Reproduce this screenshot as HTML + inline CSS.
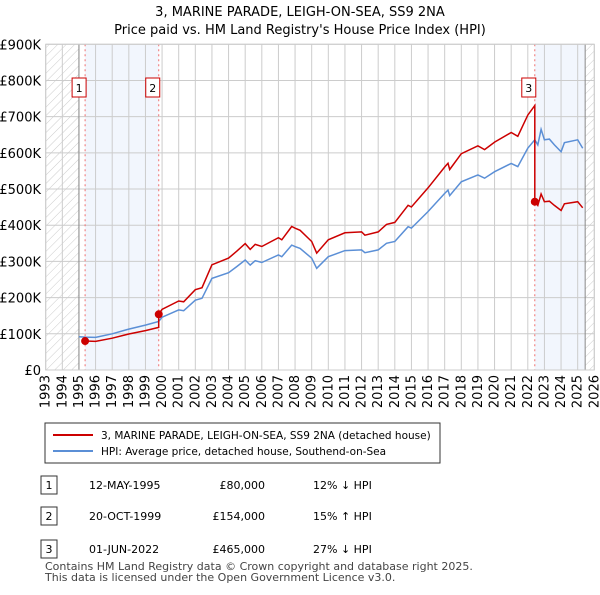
<!DOCTYPE html>
<html><head><meta charset="utf-8"><style>
body{margin:0;background:#fff;font-family:"Liberation Sans","DejaVu Sans",sans-serif;}
svg text{font-family:"DejaVu Sans","Liberation Sans",sans-serif;}
</style></head><body>
<svg id="c" width="600" height="590" viewBox="0 0 600 590">
<defs><pattern id="hatch" width="6" height="6" patternUnits="userSpaceOnUse" patternTransform="rotate(45)"><line x1="0" y1="0" x2="0" y2="6" stroke="#ccc" stroke-width="1"/></pattern></defs>
<text x="300" y="16" text-anchor="middle" font-size="13">3, MARINE PARADE, LEIGH-ON-SEA, SS9 2NA</text>
<text x="300" y="34" text-anchor="middle" font-size="13">Price paid vs. HM Land Registry's House Price Index (HPI)</text>
<g id="plot"></g>
<rect x="45" y="423" width="395" height="40" fill="#fff" stroke="#333"/>
<line x1="53" y1="435" x2="93" y2="435" stroke="#cc0000" stroke-width="2"/>
<text x="101" y="439" font-size="10.5">3, MARINE PARADE, LEIGH-ON-SEA, SS9 2NA (detached house)</text>
<line x1="53" y1="451" x2="93" y2="451" stroke="#5b8fd6" stroke-width="2"/>
<text x="101" y="455" font-size="10.5">HPI: Average price, detached house, Southend-on-Sea</text>
<g id="table" font-size="11"></g>
<text x="45" y="570" font-size="11" fill="#444">Contains HM Land Registry data © Crown copyright and database right 2025.</text>
<text x="45" y="581" font-size="11" fill="#444">This data is licensed under the Open Government Licence v3.0.</text>
</svg>
<script>
const hpiYears=[1995,1995.37,1996,1997,1998,1999,1999.8,2000,2001,2001.3,2002,2002.4,2003,2004,2004.5,2005,2005.3,2005.6,2006,2007,2007.2,2007.8,2008,2008.3,2009,2009.3,2010,2011,2012,2012.2,2013,2013.5,2014,2014.8,2015,2016,2017,2017.2,2017.3,2018,2019,2019.4,2020,2021,2021.4,2022,2022.42,2022.6,2022.8,2023,2023.3,2023.6,2024,2024.2,2025,2025.3];
const hpiValues=[92,91,90,100,113,124,134,146,166,164,193,198,253,269,286,304,290,302,297,318,313,345,341,336,309,281,313,330,332,324,332,350,355,396,392,438,488,497,482,520,539,530,548,571,562,613,636,622,665,636,638,622,603,628,636,613];
const saleYears=[1995.37,1999.8,2022.42];
const salePrices=[80,154,465];
const saleLabels=["1","2","3"];
const saleDates=["12-MAY-1995","20-OCT-1999","01-JUN-2022"];
const salePriceText=["£80,000","£154,000","£465,000"];
const saleHpiText=["12% ↓ HPI","15% ↑ HPI","27% ↓ HPI"];
const yTicks=[0,100,200,300,400,500,600,700,800,900];
const yTickLabels=["£0","£100K","£200K","£300K","£400K","£500K","£600K","£700K","£800K","£900K"];

const X0=45.7,X1=594.3,Y0=370,Y1=44.3;
const xs=y=>X0+(y-1993)*(X1-X0)/33;
const ys=v=>Y0-v*(Y0-Y1)/900;
const NS="http://www.w3.org/2000/svg";
const plot=document.getElementById('plot');
function mk(tag,attrs,parent){const e=document.createElementNS(NS,tag);for(const k in attrs)e.setAttribute(k,attrs[k]);(parent||plot).appendChild(e);return e;}
function hpiAt(t){for(let i=0;i<hpiYears.length-1;i++){if(t>=hpiYears[i]&&t<=hpiYears[i+1]){const f=(t-hpiYears[i])/(hpiYears[i+1]-hpiYears[i]);return hpiValues[i]+f*(hpiValues[i+1]-hpiValues[i]);}}return hpiValues[hpiValues.length-1];}

let e;
e=mk('rect',{x:X0,y:Y1,width:X1-X0,height:Y0-Y1,fill:'#fff'});


e=mk('rect',{x:xs(1993),y:Y1,width:xs(1995)-xs(1993),height:Y0-Y1,fill:'url(#hatch)'});


e=mk('rect',{x:xs(2025.45),y:Y1,width:X1-xs(2025.45),height:Y0-Y1,fill:'url(#hatch)'});


e=mk('rect',{x:xs(saleYears[0]),y:Y1,width:xs(saleYears[1])-xs(saleYears[0]),height:Y0-Y1,fill:'#f2f6fd'});


e=mk('rect',{x:xs(saleYears[2]),y:Y1,width:xs(2025.45)-xs(saleYears[2]),height:Y0-Y1,fill:'#f2f6fd'});


for(let yr=1993;yr<=2026;yr++){
  e=mk('line',{x1:xs(yr),x2:xs(yr),y1:Y1,y2:Y0,stroke:'#ccc','stroke-width':1});
  
  
  const tx=xs(yr)+4, ty=375;
  e=mk('text',{x:tx,y:ty,'font-size':13,'text-anchor':'end',transform:`rotate(-90 ${tx} ${ty})`});
  e.textContent=yr;
  
  
}
yTicks.forEach((v,i)=>{
  e=mk('line',{x1:X0,x2:X1,y1:ys(v),y2:ys(v),stroke:'#ccc','stroke-width':1});
  
  
  e=mk('text',{x:41,y:ys(v)+5,'font-size':13,'text-anchor':'end'});
  e.textContent=yTickLabels[i];
  
  
});
e=mk('line',{x1:xs(1995),x2:xs(1995),y1:Y1,y2:Y0,stroke:'#888','stroke-width':1});


e=mk('line',{x1:xs(2025.45),x2:xs(2025.45),y1:Y1,y2:Y0,stroke:'#888','stroke-width':1});


saleYears.forEach((t,i)=>{
  e=mk('line',{x1:xs(t),x2:xs(t),y1:Y1,y2:Y0,stroke:'#f07070','stroke-width':1,'stroke-dasharray':'2,3'});
  
  
});
let d=hpiYears.map((t,i)=>(i?'L':'M')+xs(t).toFixed(1)+','+ys(hpiValues[i]).toFixed(1)).join(' ');
e=mk('path',{d:d,fill:'none',stroke:'#5b8fd6','stroke-width':1.5});


function isSale(t){return saleYears.includes(t);}
let pts=[];
const all=[...new Set([...hpiYears,...saleYears])].filter(t=>t>=saleYears[0]).sort((a,b)=>a-b);
all.forEach(t=>{
  let k=0;for(let i=0;i<saleYears.length;i++)if(t>=saleYears[i])k=i;
  if(isSale(t)&&k>0){const pk=k-1;pts.push([t,hpiAt(t)*salePrices[pk]/hpiAt(saleYears[pk])]);}
  pts.push([t,hpiAt(t)*salePrices[k]/hpiAt(saleYears[k])]);
});
d=pts.map((p,i)=>(i?'L':'M')+xs(p[0]).toFixed(1)+','+ys(p[1]).toFixed(1)).join(' ');
e=mk('path',{d:d,fill:'none',stroke:'#cc0000','stroke-width':1.5});


saleYears.forEach((t,i)=>{
  e=mk('circle',{cx:xs(t),cy:ys(salePrices[i]),r:4,fill:'#cc0000'});
  
  
  const bx=xs(t)-7-6, by=78;
  e=mk('rect',{x:bx,y:by,width:14,height:19,fill:'#fff',stroke:'#cc0000'});
  
  
  e=mk('text',{x:bx+7,y:by+14,'font-size':11,'text-anchor':'middle'});
  e.textContent=saleLabels[i];
  
  
});
e=mk('rect',{x:X0,y:Y1,width:X1-X0,height:Y0-Y1,fill:'none',stroke:'#ccc'});


const tb=document.getElementById('table');
saleYears.forEach((t,i)=>{
  const y=[486,517,550][i];
  e=mk('rect',{x:41,y:y-10,width:16,height:18,fill:'#fff',stroke:'#333'},tb);
  
  
  e=mk('text',{x:49,y:y+3,'text-anchor':'middle'},tb);e.textContent=saleLabels[i];
  
  
  e=mk('text',{x:89,y:y+3},tb);e.textContent=saleDates[i];
  
  
  e=mk('text',{x:265,y:y+3,'text-anchor':'end'},tb);e.textContent=salePriceText[i];
  
  
  e=mk('text',{x:313,y:y+3},tb);e.textContent=saleHpiText[i];
  
  
});
</script>
</body></html>
